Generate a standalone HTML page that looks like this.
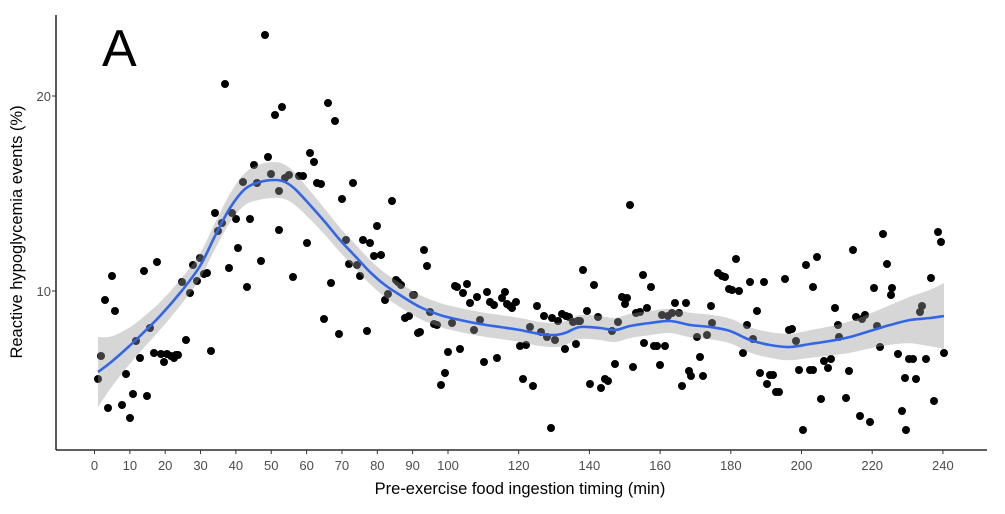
<!DOCTYPE html>
<html><head><meta charset="utf-8"><style>
html,body{margin:0;padding:0;background:#fff;}
svg{display:block;font-family:"Liberation Sans",sans-serif;}
</style></head><body>
<svg id="s" width="1005" height="514" viewBox="0 0 1005 514" xmlns="http://www.w3.org/2000/svg">
<rect width="1005" height="514" fill="#fff"/>
<g id="pts" fill="#000"></g>
<path id="band" fill="#999" fill-opacity="0.4" stroke="none"/>
<path id="line" fill="none" stroke="#3366e6" stroke-width="2.6"/>
<line x1="56" y1="15" x2="56" y2="450" stroke="#000" stroke-width="1.3"/>
<line x1="56" y1="450" x2="987" y2="450" stroke="#000" stroke-width="1.3"/>
<g id="ticks" stroke="#333" stroke-width="1"></g>
<g id="tl" fill="#4d4d4d" font-size="13" text-anchor="middle"></g>
<text x="51" y="101" fill="#4d4d4d" font-size="13" text-anchor="end">20</text>
<text x="51" y="296" fill="#4d4d4d" font-size="13" text-anchor="end">10</text>
<line x1="52" y1="96" x2="56" y2="96" stroke="#333"/>
<line x1="52" y1="291" x2="56" y2="291" stroke="#333"/>
<text x="520" y="494" font-size="16.5" text-anchor="middle" fill="#000">Pre-exercise food ingestion timing (min)</text>
<text transform="translate(22,232) rotate(-90)" font-size="16.5" text-anchor="middle" fill="#000">Reactive hypoglycemia events (%)</text>
<text x="102" y="66" font-size="52" fill="#000">A</text>
</svg>
<script>
var NS="http://www.w3.org/2000/svg",s=document.getElementById('s');
var P=[[98,379],[101,356],[105,300],[108,408],[112,276],[115,311],[122,405],[126,374],[130,418],[133,394],[136,341],[140,358],[144,271],[147,396],[150,328],[154,353],[157,262],[161,354],[164,362],[167,354],[171,356],[174,358],[176,355],[178,355],[182,282],[186,340],[190,293],[193,265],[197,281],[200,258],[204,274],[207,273],[211,351],[215,213],[218,231],[222,223],[225,84],[229,268],[232,213],[236,219],[238,248],[243,182],[247,287],[250,219],[254,165],[257,183],[261,261],[265,35],[268,157],[271,174],[275,115],[279,191],[279,230],[282,107],[285,178],[289,175],[293,277],[299,176],[303,176],[307,243],[310,153],[314,162],[317,183],[321,184],[324,319],[328,103],[331,283],[335,121],[339,334],[342,199],[346,240],[349,264],[353,183],[357,265],[360,276],[363,240],[367,331],[370,243],[374,256],[377,226],[381,255],[385,300],[388,294],[392,201],[396,280],[398,282],[401,285],[405,318],[409,316],[413,295],[414,295],[418,333],[420,332],[424,250],[427,266],[430,312],[434,324],[437,325],[441,385],[445,373],[448,352],[452,323],[455,286],[457,287],[460,349],[463,293],[467,284],[470,303],[474,330],[477,297],[480,320],[484,362],[487,292],[490,302],[494,305],[497,358],
[502,298],[505,292],[507,304],[510,306],[512,308],[516,302],[520,346],[523,379],[526,345],[530,327],[533,386],[537,306],[541,332],[544,316],[547,337],[551,428],[552,318],[555,340],[558,321],[562,314],[565,349],[566,316],[569,317],[573,322],[576,344],[578,321],[580,321],[583,270],[587,311],[590,384],[594,285],[598,317],[601,388],[605,379],[608,381],[612,331],[615,364],[618,322],[622,297],[625,304],[627,298],[630,205],[633,367],[636,313],[640,312],[643,275],[644,343],[647,308],[651,287],[654,346],[657,346],[660,365],[662,315],[665,346],[668,316],[672,313],[675,303],[679,313],[682,386],[686,303],[689,371],[691,376],[697,337],[700,357],[703,376],[707,335],[711,306],[712,323],[718,273],[722,276],[725,277],[729,289],[732,290],[736,259],[739,291],[743,353],[747,325],[750,282],[753,339],[757,311],[760,373],[764,282],[767,384],[770,375],[773,375],[776,392],[779,392],[785,279],[789,330],[792,329],[796,341],[799,370],[803,430],[806,265],[810,370],[813,287],[813,370],[817,257],[821,399],[824,361],[828,368],[831,359],[835,308],[838,325],[839,337],[846,398],[849,371],[853,250],[856,317],[860,416],[862,319],[865,315],[870,422],[874,288],[877,326],[880,347],[883,234],[887,264],[891,295],[892,288],[898,354],[902,411],[905,378],[906,430],[909,359],[913,359],[916,379],[920,312],[922,306],[926,359],[931,278],[934,401],[938,232],[941,242],[944,353]];
var g=document.getElementById('pts');
P.forEach(function(p){var c=document.createElementNS(NS,'circle');c.setAttribute('cx',p[0]);c.setAttribute('cy',p[1]);c.setAttribute('r',4);g.appendChild(c);});
var C=[[98,372],[110,363],[125,350],[140,336],[160,316],[180,293],[200,266],[215,236],[230,208],[245,189],[260,182],[275,180],[285,182],[295,189],[310,205],[325,222],[340,240],[355,256],[370,272],[385,285],[400,295],[420,307],[440,315],[460,320],[480,324],[500,327],[520,330],[540,334],[555,335],[565,333],[580,327],[600,328],[615,330],[630,326],[650,323],[670,321],[690,325],[710,327],[730,331],[750,340],[770,345],[790,347],[810,344],[830,341],[850,337],[870,331],[890,325],[910,320],[930,318],[944,316]];
function w(x){return 12+23*Math.exp(-(x-98)/25)+21*Math.exp(-(944-x)/55)+6*Math.exp(-Math.pow((x-270)/40,2));}
function cr(pts){var d='';for(var i=0;i<pts.length-1;i++){var p0=pts[Math.max(i-1,0)],p1=pts[i],p2=pts[i+1],p3=pts[Math.min(i+2,pts.length-1)];
var c1x=p1[0]+(p2[0]-p0[0])/6,c1y=p1[1]+(p2[1]-p0[1])/6,c2x=p2[0]-(p3[0]-p1[0])/6,c2y=p2[1]-(p3[1]-p1[1])/6;
d+=' C'+c1x.toFixed(1)+','+c1y.toFixed(1)+' '+c2x.toFixed(1)+','+c2y.toFixed(1)+' '+p2[0]+','+p2[1].toFixed(1);}return d;}
document.getElementById('line').setAttribute('d','M'+C[0][0]+','+C[0][1]+cr(C));
var up=C.map(function(p){return [p[0],p[1]-w(p[0])]});
var lo=C.slice().reverse().map(function(p){return [p[0],p[1]+w(p[0])]});
document.getElementById('band').setAttribute('d','M'+up[0][0]+','+up[0][1].toFixed(1)+cr(up)+' L'+lo[0][0]+','+lo[0][1].toFixed(1)+cr(lo)+'Z');
var T=[0,10,20,30,40,50,60,70,80,90,100,120,140,160,180,200,220,240],tk=document.getElementById('ticks'),tl=document.getElementById('tl');
T.forEach(function(t){var x=94.5+3.535*t;var l=document.createElementNS(NS,'line');l.setAttribute('x1',x);l.setAttribute('x2',x);l.setAttribute('y1',450);l.setAttribute('y2',454);tk.appendChild(l);
var e=document.createElementNS(NS,'text');e.setAttribute('x',x);e.setAttribute('y',470);e.textContent=t;tl.appendChild(e);});
</script>
</body></html>
